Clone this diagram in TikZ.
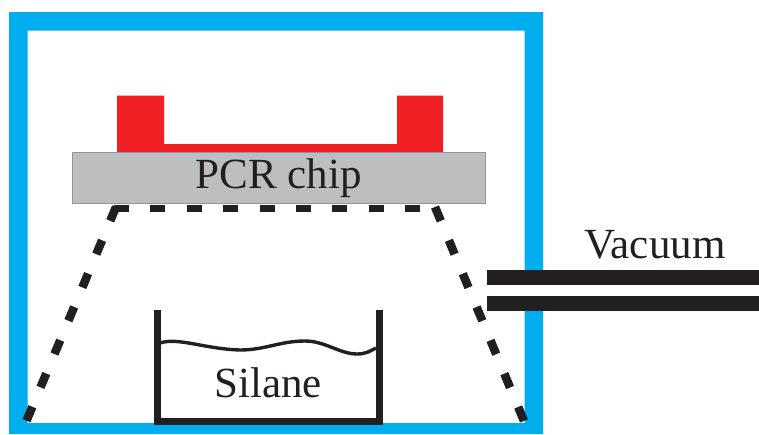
\documentclass[tikz,border=0pt]{standalone}
\usepackage{fontspec}
\setmainfont{Liberation Serif}
\usetikzlibrary{calc}
\definecolor{chamberblue}{HTML}{00AEEF}
\definecolor{pdmsred}{HTML}{F01F24}
\definecolor{chipgray}{HTML}{BCBEC0}
\definecolor{chipedge}{HTML}{939598}
\definecolor{inkblack}{HTML}{231F20}
\tikzset{
	label text/.style={text=inkblack,font=\fontsize{43}{43}\selectfont,inner sep=0pt,anchor=base},
	tube/.style={fill=inkblack,draw=none},
	stand/.style={draw=inkblack,line cap=butt},
}

\begin{document}
\begin{tikzpicture}[x=1pt,y=-1pt]
	\pgfmathsetmacro{\wall}{18.5}		%thickness of chamber wall
	\pgfmathsetmacro{\top}{95.5}		%top of the red towers
	\pgfmathsetmacro{\chip}{152}		%top of the chip
	\pgfmathsetmacro{\period}{36.1}		%dash period of the slanted legs

	\useasboundingbox (0,0) rectangle (759,434);

	%chamber
	\coordinate (a) at (9,12);
	\coordinate (b) at (543,434);
	\fill[chamberblue,even odd rule] (a) rectangle (b) ($(a)+(\wall,\wall)$) rectangle (524.5,423);

	%chip with red block on it
	\fill[pdmsred] (117,\top) -- (164,\top) -- (164,144) -- (397,144) -- (397,\top) -- (443,\top) -- (443,\chip) -- (117,\chip) -- cycle;
	\draw[chipedge,fill=chipgray,line width=0.7pt] (72.3,\chip) rectangle (485,203.5);
	\node[label text] (chip) at (278.5,188) {PCR chip};

	%dashed stand
	\coordinate (c) at (114,208.5);
	\coordinate (d) at (420,208.5);
	\coordinate (e) at (116,207);
	\coordinate (f) at (26,422);
	\coordinate (g) at (435,207);
	\coordinate (h) at (524,421);
	\draw[stand,line width=7pt,dash pattern=on 15pt off 21.4pt] (c) -- (d);
	\draw[stand,line width=8.5pt,dash pattern=on 15pt off {\period pt-15pt}] (e) -- (f);
	\draw[stand,line width=8.5pt,dash pattern=on 15pt off {\period pt-15pt}] (g) -- (h);

	%silane dish
	\draw[inkblack,line width=7.5pt,miter limit=10] (157.3,309.5) -- (157.3,421.3) -- (379.5,421.3) -- (379.5,309.5);
	\draw[inkblack,line width=3.4pt] (160,343) .. controls (178,337) and (205,349) .. (240,350)
		.. controls (265,350) and (280,341) .. (305,341)
		.. controls (325,341) and (340,354) .. (357,354)
		.. controls (366,354) and (370,351) .. (376,348);
	\node[label text] (silane) at (268,397) {Silane};

	%vacuum line
	\fill[white] (520,285) rectangle (547,296);
	\fill[tube] (487,270) rectangle (759,285);
	\fill[tube] (487,296) rectangle (759,310.5);
	\node[label text] (vacuum) at (655,258) {Vacuum};
\end{tikzpicture}
\end{document}
